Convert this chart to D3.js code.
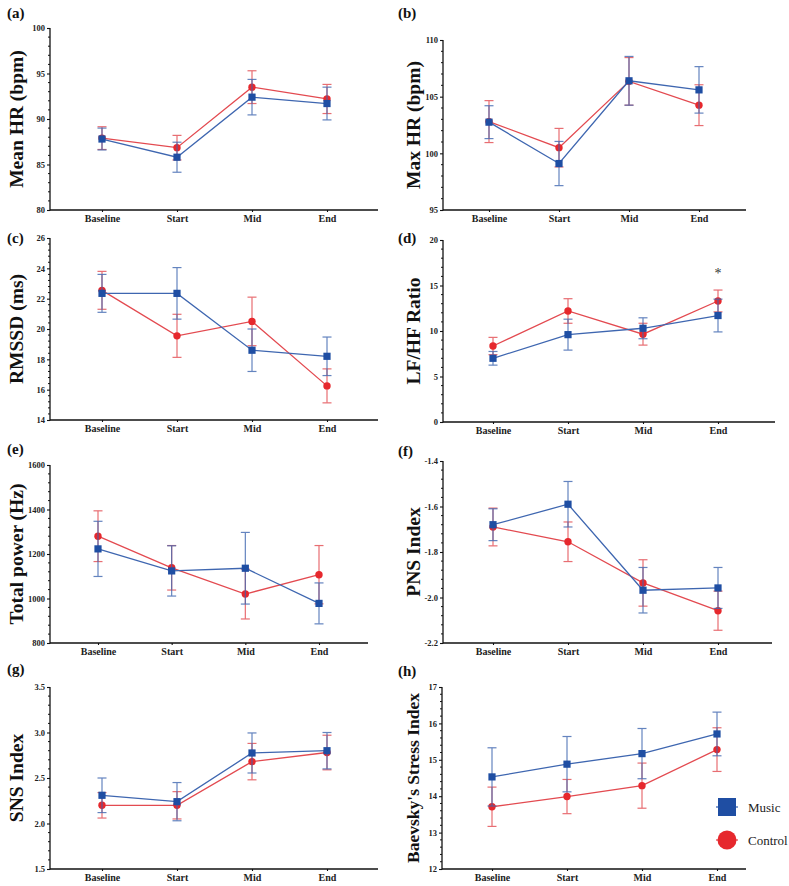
<!DOCTYPE html>
<html>
<head>
<meta charset="utf-8">
<script src="https://cdn.jsdelivr.net/npm/d3@7"></script>
<style>
  body { margin: 0; background: #fff; }
  text { font-family: "Liberation Serif", "Times New Roman", serif; }
</style>
</head>
<body>
<script>
// time points
var categories = ["Baseline", "Start", "Mid", "End"];

// (a) mean HR
var meanHrMusic = [87.8, 85.8, 92.4, 91.7];
var meanHrMusicErr = [1.2, 1.65, 1.95, 1.8];
var meanHrControl = [87.9, 86.85, 93.5, 92.2];
var meanHrControlErr = [1.25, 1.35, 1.8, 1.6];
var meanHrTicks = [80, 85, 90, 95, 100];

// (b) max HR
var maxHrMusic = [102.75, 99.1, 106.4, 105.6];
var maxHrMusicErr = [1.45, 1.95, 2.15, 2.05];
var maxHrControl = [102.8, 100.5, 106.35, 104.25];
var maxHrControlErr = [1.85, 1.7, 2.1, 1.8];
var maxHrTicks = [95, 100, 105, 110];

// (c) RMSSD
var rmssdMusic = [22.35, 22.35, 18.6, 18.2];
var rmssdMusicErr = [1.25, 1.7, 1.4, 1.27];
var rmssdControl = [22.55, 19.55, 20.5, 16.25];
var rmssdControlErr = [1.25, 1.42, 1.6, 1.12];
var rmssdTicks = [14, 16, 18, 20, 22, 24, 26];

// (d) LF/HF ratio
var lfhfMusic = [7.0, 9.6, 10.3, 11.7];
var lfhfMusicErr = [0.75, 1.7, 1.15, 1.8];
var lfhfControl = [8.35, 12.2, 9.65, 13.3];
var lfhfControlErr = [0.95, 1.35, 1.2, 1.2];
var lfhfTicks = [0, 5, 10, 15, 20];
var lfhfStar = [null, null, null, 16.3];

// (e) total power
var powerMusic = [1223, 1124, 1136, 978];
var powerMusicErr = [124, 113, 161, 92];
var powerControl = [1280, 1138, 1020, 1107];
var powerControlErr = [114, 100, 112, 131];
var powerTicks = [800, 1000, 1200, 1400, 1600];

// (f) PNS index
var pnsMusic = [-1.68, -1.59, -1.968, -1.958];
var pnsMusicErr = [0.07, 0.1, 0.1, 0.09];
var pnsControl = [-1.69, -1.755, -1.936, -2.058];
var pnsControlErr = [0.083, 0.087, 0.102, 0.086];
var pnsTicks = [-2.2, -2.0, -1.8, -1.6, -1.4];

// (g) SNS index
var snsMusic = [2.31, 2.24, 2.775, 2.8];
var snsMusicErr = [0.19, 0.21, 0.22, 0.2];
var snsControl = [2.2, 2.2, 2.68, 2.78];
var snsControlErr = [0.14, 0.15, 0.2, 0.19];
var snsTicks = [1.5, 2.0, 2.5, 3.0, 3.5];

// (h) Baevsky's stress index
var stressMusic = [14.53, 14.88, 15.17, 15.71];
var stressMusicErr = [0.8, 0.76, 0.69, 0.6];
var stressControl = [13.71, 13.99, 14.29, 15.28];
var stressControlErr = [0.54, 0.47, 0.62, 0.6];
var stressTicks = [12, 13, 14, 15, 16, 17];

var legendNames = ["Music", "Control"];

var W = 789, H = 886;
var musicFill = "#1f4ea3", musicLine = "#3e66b0";
var controlFill = "#e6282d", controlLine = "#e34a50";
var serif = "'Liberation Serif', 'Times New Roman', serif";

var fmtInt = function(d){ return String(d); };
var fmtOne = function(d){ return d.toFixed(1); };

// layout of each panel (pixel boxes)
var panels = [
  {tag:"(a)", title:"Mean HR (bpm)", m:meanHrMusic, me:meanHrMusicErr, c:meanHrControl, ce:meanHrControlErr, ticks:meanHrTicks, fmt:fmtInt,
   ax:50, top:28, bottom:210, right:378, first:102, last:327, tagX:7, tagY:18, titleX:16, fs:19.5},
  {tag:"(b)", title:"Max HR (bpm)", m:maxHrMusic, me:maxHrMusicErr, c:maxHrControl, ce:maxHrControlErr, ticks:maxHrTicks, fmt:fmtInt,
   ax:443, top:40, bottom:210, right:746, first:489, last:699, tagX:398, tagY:18, titleX:413, fs:19.5},
  {tag:"(c)", title:"RMSSD (ms)", m:rmssdMusic, me:rmssdMusicErr, c:rmssdControl, ce:rmssdControlErr, ticks:rmssdTicks, fmt:fmtInt,
   ax:50, top:238, bottom:420, right:378, first:102, last:327, tagX:7, tagY:243, titleX:16, fs:19.5},
  {tag:"(d)", title:"LF/HF Ratio", m:lfhfMusic, me:lfhfMusicErr, c:lfhfControl, ce:lfhfControlErr, ticks:lfhfTicks, fmt:fmtInt, star:lfhfStar,
   ax:443, top:240, bottom:422, right:775, first:493, last:718, tagX:398, tagY:243, titleX:413, fs:19.5},
  {tag:"(e)", title:"Total power (Hz)", m:powerMusic, me:powerMusicErr, c:powerControl, ce:powerControlErr, ticks:powerTicks, fmt:fmtInt,
   ax:50, top:465, bottom:643, right:368, first:98, last:319, tagX:7, tagY:454, titleX:16, fs:19.5},
  {tag:"(f)", title:"PNS Index", m:pnsMusic, me:pnsMusicErr, c:pnsControl, ce:pnsControlErr, ticks:pnsTicks, fmt:fmtOne,
   ax:443, top:461, bottom:643, right:772, first:493, last:718, tagX:398, tagY:456, titleX:413, fs:19.5},
  {tag:"(g)", title:"SNS Index", m:snsMusic, me:snsMusicErr, c:snsControl, ce:snsControlErr, ticks:snsTicks, fmt:fmtOne,
   ax:50, top:687, bottom:869, right:378, first:102, last:327, tagX:7, tagY:674, titleX:16, fs:19.5},
  {tag:"(h)", title:"Baevsky's Stress Index", m:stressMusic, me:stressMusicErr, c:stressControl, ce:stressControlErr, ticks:stressTicks, fmt:fmtInt,
   ax:442, top:687, bottom:869, right:746, first:492, last:717, tagX:398, tagY:676, titleX:413, fs:17.5, legend:true}
];

var svg = d3.select("body").append("svg")
  .attr("width", W).attr("height", H);

svg.append("rect").attr("width", W).attr("height", H).attr("fill", "#fff");

panels.forEach(function(p){
  var g = svg.append("g");
  var ticks = p.ticks;
  var y = d3.scaleLinear()
    .domain([ticks[0], ticks[ticks.length - 1]])
    .range([p.bottom, p.top]);
  var x = d3.scalePoint().domain(categories).range([p.first, p.last]);

  // minor ticks, 4 between majors
  var minor = [];
  for (var i = 0; i < ticks.length - 1; i++) {
    var st = (ticks[i + 1] - ticks[i]) / 5;
    for (var k = 1; k < 5; k++) minor.push(ticks[i] + k * st);
  }

  var yAxis = d3.axisLeft(y).tickValues(ticks).tickFormat(p.fmt).tickSize(3).tickPadding(2);
  var ya = g.append("g").attr("transform", "translate(" + p.ax + ",0)").call(yAxis)
    .attr("font-family", serif);
  ya.select(".domain").remove();
  ya.selectAll("line").attr("stroke", "#111").attr("stroke-width", 1.1);
  ya.selectAll("text")
    .style("font-family", serif)
    .style("font-weight", "bold")
    .style("font-size", "8.5px")
    .attr("fill", "#222");

  g.selectAll(".minor").data(minor).enter().append("line")
    .attr("x1", p.ax - 2).attr("x2", p.ax)
    .attr("y1", function(d){ return y(d); })
    .attr("y2", function(d){ return y(d); })
    .attr("stroke", "#111").attr("stroke-width", 1);

  // axis lines
  g.append("line")
    .attr("x1", p.ax).attr("x2", p.ax)
    .attr("y1", p.top).attr("y2", p.bottom + 0.6)
    .attr("stroke", "#111").attr("stroke-width", 1.3);
  g.append("line")
    .attr("x1", p.ax).attr("x2", p.right)
    .attr("y1", p.bottom).attr("y2", p.bottom)
    .attr("stroke", "#111").attr("stroke-width", 1.3);

  var xAxis = d3.axisBottom(x).tickSize(2).tickPadding(3);
  var xa = g.append("g").attr("transform", "translate(0," + p.bottom + ")").call(xAxis)
    .attr("font-family", serif);
  xa.select(".domain").remove();
  xa.selectAll("line").attr("stroke", "#111").attr("stroke-width", 1.1);
  xa.selectAll("text")
    .style("font-family", serif)
    .style("font-weight", "bold")
    .style("font-size", "10px")
    .attr("fill", "#222");

  // titles
  g.append("text")
    .attr("x", p.tagX).attr("y", p.tagY)
    .style("font-weight", "bold").style("font-size", "15px")
    .attr("fill", "#111")
    .text(p.tag);

  g.append("text")
    .attr("transform", "translate(" + p.titleX + "," + ((p.top + p.bottom) / 2) + ") rotate(-90)")
    .attr("text-anchor", "middle")
    .attr("dominant-baseline", "central")
    .style("font-weight", "bold").style("font-size", p.fs + "px")
    .attr("fill", "#111")
    .text(p.title);

  // series: control first, music on top
  var series = [
    {vals:p.c, err:p.ce, fill:controlFill, line:controlLine, shape:"circle"},
    {vals:p.m, err:p.me, fill:musicFill, line:musicLine, shape:"square"}
  ];

  series.forEach(function(s){
    var pts = categories.map(function(c, i){ return {cat:c, v:s.vals[i], e:s.err[i]}; });

    // error bars
    var eb = g.append("g").attr("stroke", s.line).attr("stroke-width", 1.2).attr("opacity", 0.8);
    eb.selectAll(".v").data(pts).enter().append("line")
      .attr("x1", function(d){ return x(d.cat); })
      .attr("x2", function(d){ return x(d.cat); })
      .attr("y1", function(d){ return y(d.v + d.e); })
      .attr("y2", function(d){ return y(d.v - d.e); });
    [1, -1].forEach(function(sg){
      eb.selectAll(".cap" + sg).data(pts).enter().append("line")
        .attr("x1", function(d){ return x(d.cat) - 4.5; })
        .attr("x2", function(d){ return x(d.cat) + 4.5; })
        .attr("y1", function(d){ return y(d.v + sg * d.e); })
        .attr("y2", function(d){ return y(d.v + sg * d.e); });
    });

    var line = d3.line()
      .x(function(d){ return x(d.cat); })
      .y(function(d){ return y(d.v); });
    g.append("path").datum(pts)
      .attr("d", line)
      .attr("fill", "none")
      .attr("stroke", s.line)
      .attr("stroke-width", 1.3);

    if (s.shape == "circle") {
      g.selectAll(".pt").data(pts).enter().append("circle")
        .attr("cx", function(d){ return x(d.cat); })
        .attr("cy", function(d){ return y(d.v); })
        .attr("r", 3.7)
        .attr("fill", s.fill);
    } else {
      g.selectAll(".pt").data(pts).enter().append("rect")
        .attr("x", function(d){ return x(d.cat) - 3.6; })
        .attr("y", function(d){ return y(d.v) - 3.6; })
        .attr("width", 7.2).attr("height", 7.2)
        .attr("fill", s.fill);
    }
  });

  // significance marks
  if (p.star) {
    p.star.forEach(function(v, i){
      if (v == null) return;
      g.append("text")
        .attr("x", x(categories[i])).attr("y", y(v))
        .attr("text-anchor", "middle")
        .attr("dominant-baseline", "central")
        .style("font-size", "14px")
        .attr("fill", "#333")
        .text("*");
    });
  }

  // legend in the last panel
  if (p.legend) {
    var ly = [807, 840];
    legendNames.forEach(function(name, i){
      var lg = g.append("g").attr("transform", "translate(727," + ly[i] + ")");
      var col = i == 0 ? musicFill : controlFill;
      lg.append("line").attr("x1", -11).attr("x2", 11)
        .attr("stroke", i == 0 ? musicLine : controlLine).attr("stroke-width", 1.3);
      if (i == 0) {
        lg.append("rect").attr("x", -9).attr("y", -9).attr("width", 18).attr("height", 18).attr("fill", col);
      } else {
        lg.append("circle").attr("r", 9.5).attr("fill", col);
      }
      lg.append("text").attr("x", 21).attr("y", 0)
        .attr("dominant-baseline", "central")
        .style("font-size", "13px")
        .attr("fill", "#222")
        .text(name);
    });
  }
});
</script>
</body>
</html>
